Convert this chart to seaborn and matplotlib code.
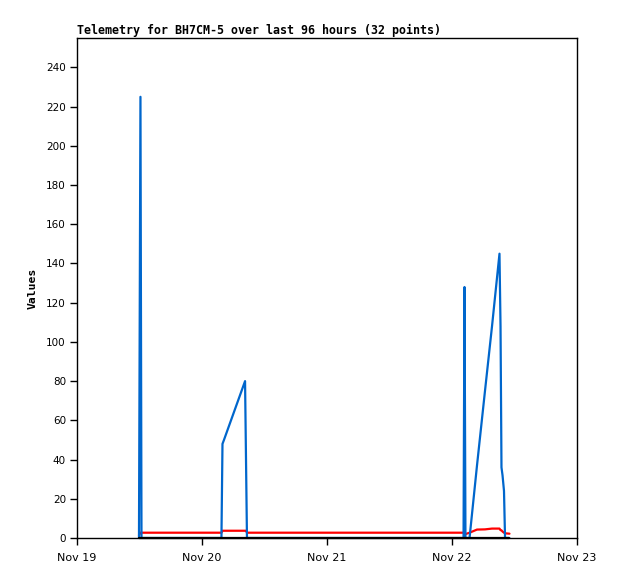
import matplotlib
matplotlib.use("Agg")
import matplotlib.pyplot as plt
import pandas as pd
import seaborn as sns

# ---- data ----
times = [
    "2023-11-19 11:54", "2023-11-19 12:11", "2023-11-19 12:23",
    "2023-11-20 03:44", "2023-11-20 03:56", "2023-11-20 04:13",
    "2023-11-20 08:16", "2023-11-20 08:27", "2023-11-20 08:38",
    "2023-11-22 02:13", "2023-11-22 02:24", "2023-11-22 02:35",
    "2023-11-22 03:22", "2023-11-22 04:48", "2023-11-22 06:20",
    "2023-11-22 07:41", "2023-11-22 09:07", "2023-11-22 09:19",
    "2023-11-22 09:30", "2023-11-22 09:42", "2023-11-22 09:59",
    "2023-11-22 10:11", "2023-11-22 11:02",
]
blue_vals = [0, 225, 0, 0, 48, 50, 80, 40, 0, 0, 128, 0, 0, 37, 75, 108,
             145, 108, 36, 32, 24, 0, 0]
red_vals = [1.5, 2.7, 2.7, 2.7, 3.7, 3.7, 3.7, 3.7, 2.7, 2.7, 2.7, 2.0, 2.7,
            4.3, 4.4, 4.8, 4.8, 4.0, 3.9, 3.3, 2.7, 2.4, 2.2]
black_vals = [0] * len(times)

series_names = ["red", "blue", "black"]
series_colors = ["#ff0000", "#0066cc", "#000000"]
title = "Telemetry for BH7CM-5 over last 96 hours (32 points)"
ylabel = "Values"
y_ticks = list(range(0, 241, 20))
x_ticks = ["2023-11-19", "2023-11-20", "2023-11-21", "2023-11-22", "2023-11-23"]
x_ticklabels = ["Nov 19", "Nov 20", "Nov 21", "Nov 22", "Nov 23"]

t = pd.to_datetime(times)
df = pd.concat([
    pd.DataFrame({"time": t, "value": red_vals, "series": "red"}),
    pd.DataFrame({"time": t, "value": blue_vals, "series": "blue"}),
    pd.DataFrame({"time": t, "value": black_vals, "series": "black"}),
], ignore_index=True)

sns.set_style("white")
plt.rcParams["text.color"] = "black"
plt.rcParams["axes.labelcolor"] = "black"
plt.rcParams["xtick.color"] = "black"
plt.rcParams["ytick.color"] = "black"

fig = plt.figure(figsize=(6.18, 5.79), dpi=100)
ax = fig.add_axes([77 / 618, 1 - 538 / 579, 500 / 618, 500 / 579])

sns.lineplot(data=df, x="time", y="value", hue="series",
             hue_order=series_names,
             palette=dict(zip(series_names, series_colors)),
             linewidth=1.6, legend=False, ax=ax, estimator=None, sort=False)
# the zero-level black series sits on the axis; let it show its full width
ax.lines[-1].set_clip_on(False)

ax.set_xlim(pd.Timestamp(x_ticks[0]), pd.Timestamp(x_ticks[-1]))
ax.set_ylim(0, 255)
ax.set_yticks(y_ticks)
ax.set_yticklabels([str(v) for v in y_ticks], fontsize=7.5, family="DejaVu Sans",
                   color="black")
ax.set_xticks([pd.Timestamp(s) for s in x_ticks])
ax.set_xticklabels(x_ticklabels, fontsize=8, family="DejaVu Sans", color="black")
ax.tick_params(axis="both", direction="out", length=5, width=1, color="black",
               bottom=True, left=True, pad=3)
ax.tick_params(axis="x", pad=6)
for s in ax.spines.values():
    s.set_color("black")
    s.set_linewidth(1)
ax.set_xlabel("")
ax.set_ylabel(ylabel, fontsize=8.2, family="DejaVu Sans Mono", fontweight="bold",
              labelpad=6, color="black")
ax.set_title(title, loc="left", fontsize=8.4, family="DejaVu Sans Mono",
             fontweight="bold", pad=3, color="black")
ax.grid(False)

fig.savefig("out.png", dpi=100, facecolor="white")
